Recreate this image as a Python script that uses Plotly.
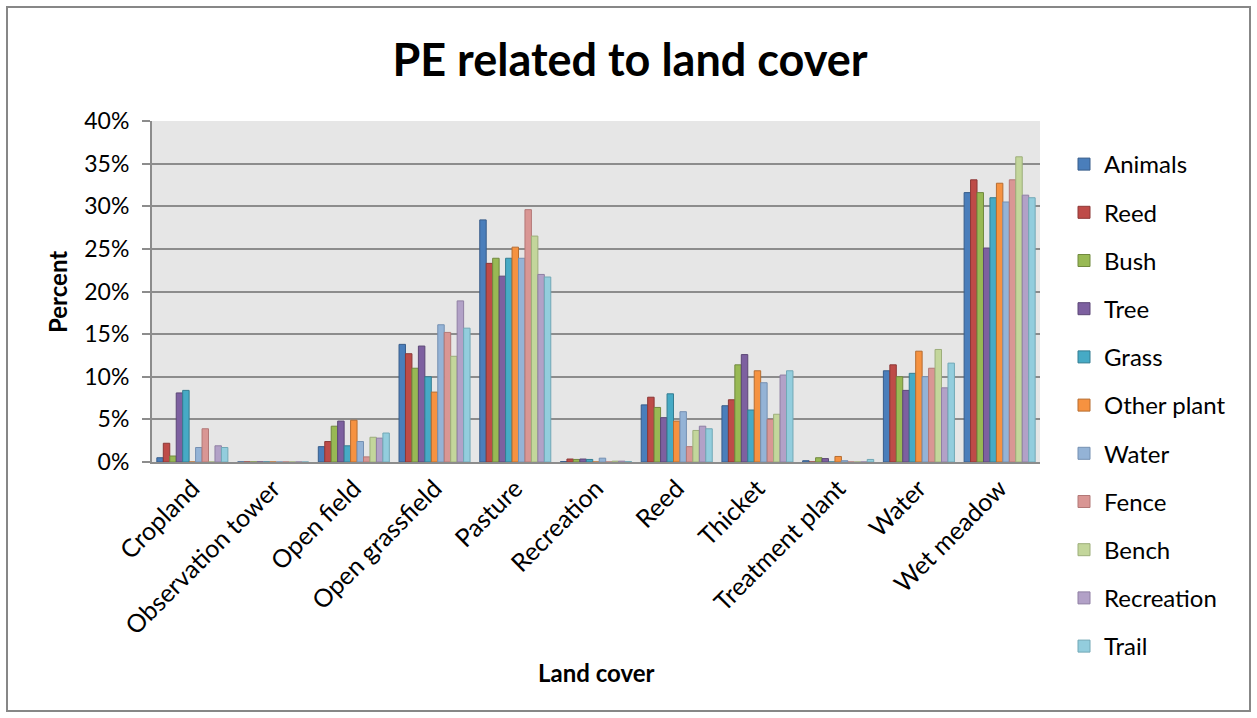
import plotly.graph_objects as go

# Land cover categories (x axis)
land_cover = [
    "Cropland", "Observation tower", "Open field", "Open grassfield", "Pasture",
    "Recreation", "Reed", "Thicket", "Treatment plant", "Water", "Wet meadow",
]

# Percent of PE per land cover, one list per element type
animals = [0.5, 0, 1.8, 13.8, 28.4, 0.05, 6.7, 6.6, 0.15, 10.7, 31.6]
reed = [2.2, 0, 2.4, 12.7, 23.3, 0.35, 7.6, 7.3, 0, 11.4, 33.1]
bush = [0.7, 0, 4.2, 11.0, 23.9, 0.3, 6.4, 11.4, 0.5, 10.0, 31.6]
tree = [8.1, 0, 4.8, 13.6, 21.8, 0.35, 5.2, 12.6, 0.4, 8.4, 25.1]
grass = [8.4, 0, 1.9, 10.0, 23.9, 0.3, 8.0, 6.1, 0, 10.4, 31.0]
other_plant = [0, 0, 4.9, 8.2, 25.2, 0, 4.8, 10.7, 0.65, 13.0, 32.7]
water = [1.7, 0, 2.4, 16.1, 23.9, 0.45, 5.9, 9.3, 0.15, 10.0, 30.5]
fence = [3.9, 0, 0.6, 15.2, 29.6, 0, 1.8, 5.0, 0, 11.0, 33.1]
bench = [0, 0, 2.9, 12.4, 26.5, 0.1, 3.7, 5.6, 0, 13.2, 35.8]
recreation = [1.9, 0, 2.8, 18.9, 22.0, 0.1, 4.2, 10.2, 0, 8.7, 31.3]
trail = [1.7, 0, 3.4, 15.7, 21.7, 0.05, 3.9, 10.7, 0.3, 11.6, 31.0]

series_names = ["Animals", "Reed", "Bush", "Tree", "Grass", "Other plant",
                "Water", "Fence", "Bench", "Recreation", "Trail"]
series_values = [animals, reed, bush, tree, grass, other_plant,
                 water, fence, bench, recreation, trail]

fill_colors = ["#4A7EBB", "#BE4B48", "#98B954", "#7D60A0", "#46AAC5", "#F69240",
               "#94B3D6", "#D99694", "#C3D69B", "#B2A1C7", "#93CDDD"]
edge_colors = ["#385D8A", "#8C3836", "#71893F", "#5C4776", "#357D91", "#B66D31",
               "#7590B2", "#B27877", "#9DAE7B", "#8F7FA3", "#72A8B6"]

W, H = 1257, 718
ML, MR, MT, MB = 152, 217, 121, 256
FONT = "Lato, 'Open Sans', sans-serif"

fig = go.Figure()
for name, vals, fc, ec in zip(series_names, series_values, fill_colors, edge_colors):
    fig.add_trace(go.Bar(
        name=name, x=land_cover, y=vals,
        marker=dict(color=fc, line=dict(color=ec, width=1)),
        legendgroup=name,
    ))

# paper-coordinate helpers for the outer chart frame
pw, ph = W - ML - MR, H - MT - MB
def px_x(p):
    return (p - ML) / pw
def px_y(p):
    return (H - MB - p) / ph

fig.update_layout(
    width=W, height=H,
    margin=dict(l=ML, r=MR, t=MT, b=MB),
    paper_bgcolor="white",
    plot_bgcolor="#E6E6E6",
    barmode="group",
    bargap=0.12,
    bargroupgap=0,
    font=dict(family=FONT, size=23, color="black"),
    title=dict(
        text="<b>PE related to land cover</b>",
        font=dict(family=FONT, size=45, color="black"),
        xref="container", yref="container",
        x=630 / W, y=1 - 60 / H, xanchor="center", yanchor="middle",
    ),
    legend=dict(
        xref="container", yref="container",
        x=1064 / W, y=1 - 142 / H, xanchor="left", yanchor="top",
        font=dict(family=FONT, size=24, color="black"),
        tracegroupgap=14,
        maxheight=700,
        bgcolor="rgba(0,0,0,0)",
    ),
    xaxis=dict(
        tickangle=-45,
        showgrid=False,
        showline=True, linecolor="#8C8C8C", linewidth=2,
        ticks="", tickfont=dict(size=25),
    ),
    yaxis=dict(
        range=[0, 40], dtick=5, ticksuffix="%",
        showgrid=True, gridcolor="#8C8C8C", gridwidth=1.5,
        showline=True, linecolor="#8C8C8C", linewidth=2,
        ticks="outside", ticklen=8, tickcolor="#8C8C8C", tickwidth=1.5,
        ticklabelstandoff=8,
        zeroline=False, tickfont=dict(size=23),
    ),
    annotations=[
        dict(text="<b>Percent</b>", xref="paper", yref="paper",
             x=px_x(57), y=px_y(292), textangle=-90, showarrow=False,
             font=dict(family=FONT, size=24, color="black"),
             xanchor="center", yanchor="middle"),
        dict(text="<b>Land cover</b>", xref="paper", yref="paper",
             x=px_x(596), y=px_y(672), showarrow=False,
             font=dict(family=FONT, size=24, color="black"),
             xanchor="center", yanchor="middle"),
    ],
    shapes=[
        dict(type="rect", xref="paper", yref="paper",
             x0=px_x(7), x1=px_x(1250), y0=px_y(711), y1=px_y(7),
             line=dict(color="#878787", width=2), fillcolor="rgba(0,0,0,0)",
             layer="below"),
    ],
)

fig.write_html("out.html")
